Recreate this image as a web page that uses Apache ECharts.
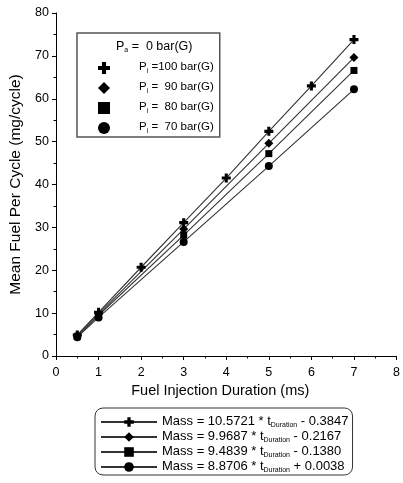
<!DOCTYPE html>
<html>
<head>
<meta charset="utf-8">
<script src="https://cdn.jsdelivr.net/npm/echarts@6/dist/echarts.min.js"></script>
<style>
  html, body { margin: 0; padding: 0; background: #fff; }
  #main { width: 403px; height: 483px; }
</style>
</head>
<body>
<div id="main"></div>
<script>
// Datos
const durLong = [0.5, 1, 2, 3, 4, 5, 6, 7];
const durShort = [0.5, 1, 3, 5, 7];
const fuel100 = [4.9, 10.2, 20.7, 31.1, 41.5, 52.4, 63.0, 73.8];
const fuel90 = [4.8, 9.8, 29.6, 49.6, 69.6];
const fuel80 = [4.6, 9.5, 28.2, 47.2, 66.6];
const fuel70 = [4.4, 9.0, 26.6, 44.3, 62.2];

const seriesNames = ["P100", "P90", "P80", "P70"];
const pressureLabels = ["=100", "=  90", "=  80", "=  70"];
const fitSlopes = ["10.5721", "9.9687", "9.4839", "8.8706"];
const fitOffsets = ["- 0.3847", "- 0.2167", "- 0.1380", "+ 0.0038"];
const xTicks = [0, 1, 2, 3, 4, 5, 6, 7, 8];
const yTicks = [0, 10, 20, 30, 40, 50, 60, 70, 80];

const plusPath =
  "path://M-1.1,-3.2L1.1,-3.2L1.1,-1.1L3.2,-1.1L3.2,1.1L1.1,1.1L1.1,3.2L-1.1,3.2L-1.1,1.1L-3.2,1.1L-3.2,-1.1L-1.1,-1.1Z";
const symbols = [plusPath, "diamond", "rect", "circle"];
const symbolSizes = [9, 9, 7, 8];

const FONT = "Liberation Sans";

const pairs = (xs, ys) => xs.map((x, i) => [x, ys[i]]);
const seriesData = [
  pairs(durLong, fuel100),
  pairs(durShort, fuel90),
  pairs(durShort, fuel80),
  pairs(durShort, fuel70),
];

const chart = echarts.init(document.getElementById("main"));

// texto con subíndice
const makeRich = (size) => ({
  a: { fontFamily: FONT, fontSize: size, color: "#000", lineHeight: 14, verticalAlign: "top" },
  s: { fontFamily: FONT, fontSize: 7, color: "#000", lineHeight: 8, padding: [7, 0, 0, 0], verticalAlign: "top" },
});

const option = {
  animation: false,
  grid: { left: 55, right: 4, top: 13, bottom: 127 },
  xAxis: {
    type: "value",
    min: xTicks[0],
    max: xTicks[xTicks.length - 1],
    interval: 1,
    name: "Fuel Injection Duration (ms)",
    nameLocation: "middle",
    nameGap: 24,
    nameTextStyle: { fontFamily: FONT, fontSize: 14.5, color: "#000", padding: [0, 12, 0, 0] },
    axisLine: { lineStyle: { color: "#000", width: 1 } },
    axisTick: { length: 4, lineStyle: { color: "#000" } },
    minorTick: { show: true, splitNumber: 2, length: 2.5, lineStyle: { color: "#000" } },
    axisLabel: { fontFamily: FONT, fontSize: 12.5, color: "#000", margin: 10 },
    splitLine: { show: false },
  },
  yAxis: {
    type: "value",
    min: yTicks[0],
    max: yTicks[yTicks.length - 1],
    interval: 10,
    name: "Mean Fuel Per Cycle (mg/cycle)",
    nameLocation: "middle",
    nameGap: 32,
    nameTextStyle: { fontFamily: FONT, fontSize: 15.5, color: "#000" },
    axisLine: { show: true, lineStyle: { color: "#000", width: 1 } },
    axisTick: { show: true, length: 4, lineStyle: { color: "#000" } },
    minorTick: { show: true, splitNumber: 2, length: 2.5, lineStyle: { color: "#000" } },
    axisLabel: { fontFamily: FONT, fontSize: 12.5, color: "#000", margin: 7 },
    splitLine: { show: false },
  },
  legend: [
    {
      // leyenda superior: solo símbolos
      left: 77,
      top: 33,
      orient: "vertical",
      padding: [28, 6, 2, 21],
      itemGap: 6,
      itemWidth: 12,
      itemHeight: 12,
      borderColor: "#555",
      borderWidth: 1.5,
      data: seriesNames.map((n, i) => ({ name: n, icon: symbols[i], itemStyle: { color: "#000" } })),
      formatter: (name) => "{a|P}{s|i}{a| " + pressureLabels[seriesNames.indexOf(name)] + " bar(G)}",
      textStyle: { padding: [0, 0, 0, 24], rich: makeRich(11.5) },
    },
    {
      // leyenda inferior: líneas de ajuste
      left: 95,
      top: 408,
      orient: "vertical",
      padding: [7, 4, 1, 5],
      itemGap: 1,
      itemWidth: 56,
      itemHeight: 12,
      borderColor: "#333",
      borderWidth: 1,
      borderRadius: 8,
      data: seriesNames,
      formatter: (name) => {
        const i = seriesNames.indexOf(name);
        return "{a|Mass = " + fitSlopes[i] + " * t}{s|Duration}{a| " + fitOffsets[i] + "}";
      },
      textStyle: { rich: makeRich(13) },
    },
  ],
  graphic: [
    {
      type: "text",
      left: 116,
      top: 40,
      style: {
        text: "{a|P}{s|a}{a| =  0 bar(G)}",
        rich: makeRich(12.5),
      },
    },
  ],
  series: seriesNames.map((n, i) => ({
    name: n,
    type: "line",
    data: seriesData[i],
    symbol: symbols[i],
    symbolSize: symbolSizes[i],
    itemStyle: { color: "#000" },
    lineStyle: { color: "#333", width: 1.1 },
  })),
};

chart.setOption(option);
</script>
</body>
</html>
